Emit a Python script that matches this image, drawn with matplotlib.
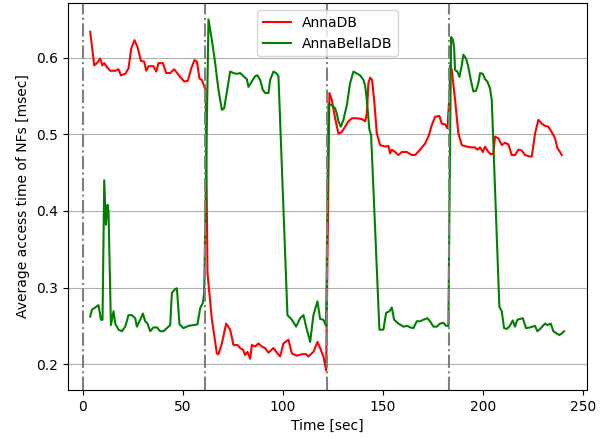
import matplotlib
matplotlib.use("Agg")
import matplotlib.pyplot as plt

# AnnaDB access time (sec, msec)
anna_t = [3.65, 5.65, 7.0, 8.65, 9.65, 10.65, 12.0, 13.65, 16.15, 17.8, 19.0, 21.15, 22.8,
          24.15, 25.8, 27.3, 29.0, 30.65, 31.65, 32.8, 35.3, 36.65, 37.8, 40.0, 41.65, 43.65,
          45.65, 48.3, 50.65, 52.5, 54.15, 55.8, 57.0, 58.3, 59.5, 60.65, 61.4, 62.3, 64.5,
          67.0, 67.8, 69.5, 71.65, 73.65, 75.3, 77.3, 78.65, 80.0, 81.15, 82.3, 83.65, 84.5,
          86.15, 87.8, 89.5, 91.15, 92.8, 95.3, 97.3, 98.65, 100.3, 102.8, 104.5, 107.0, 109.5,
          111.65, 112.8, 115.3, 117.3, 118.65, 120.3, 121.65, 123.3, 124.5, 126.15, 127.8,
          129.5, 130.65, 132.8, 134.5, 137.0, 139.5, 141.15, 142.0, 142.8, 143.65, 144.65,
          145.8, 147.0, 148.65, 151.15, 152.8, 153.65, 154.5, 156.15, 157.8, 159.5, 162.0,
          164.5, 166.15, 168.65, 171.15, 172.8, 174.5, 176.15, 178.3, 179.5, 181.15, 182.3,
          183.3, 183.8, 184.5, 186.15, 187.8, 189.5, 192.0, 194.5, 196.15, 197.3, 198.65,
          200.0, 201.15, 202.8, 204.0, 205.3, 206.15, 207.8, 209.5, 211.15, 212.8, 214.5,
          216.15, 217.8, 219.5, 221.15, 223.65, 224.5, 226.15, 227.8, 229.5, 231.15, 232.8,
          234.5, 236.15, 237.3, 238.65, 239.5]
anna_v = [0.634, 0.590, 0.593, 0.599, 0.590, 0.593, 0.588, 0.583, 0.583, 0.585, 0.577, 0.579,
          0.586, 0.612, 0.623, 0.614, 0.596, 0.595, 0.583, 0.589, 0.589, 0.582, 0.593, 0.593,
          0.580, 0.580, 0.585, 0.576, 0.569, 0.570, 0.586, 0.597, 0.595, 0.573, 0.571, 0.563,
          0.558, 0.319, 0.258, 0.214, 0.213, 0.227, 0.253, 0.245, 0.225, 0.225, 0.221, 0.219,
          0.212, 0.216, 0.207, 0.225, 0.223, 0.227, 0.223, 0.221, 0.215, 0.221, 0.214, 0.210,
          0.227, 0.232, 0.214, 0.211, 0.213, 0.213, 0.210, 0.216, 0.229, 0.221, 0.210, 0.192,
          0.554, 0.545, 0.521, 0.501, 0.503, 0.508, 0.517, 0.521, 0.521, 0.520, 0.517, 0.527,
          0.567, 0.574, 0.571, 0.541, 0.501, 0.486, 0.484, 0.485, 0.475, 0.480, 0.477, 0.473,
          0.477, 0.477, 0.473, 0.473, 0.480, 0.488, 0.497, 0.512, 0.523, 0.524, 0.514, 0.513,
          0.508, 0.549, 0.590, 0.584, 0.545, 0.501, 0.486, 0.484, 0.483, 0.483, 0.480, 0.483,
          0.477, 0.484, 0.477, 0.474, 0.475, 0.497, 0.495, 0.486, 0.489, 0.487, 0.473, 0.473,
          0.480, 0.479, 0.473, 0.471, 0.471, 0.501, 0.519, 0.514, 0.511, 0.510, 0.503, 0.495,
          0.482, 0.477, 0.473]

# AnnaBellaDB access time
bella_t = [3.65, 4.5, 6.15, 7.8, 9.0, 9.8, 10.65, 11.5, 12.3, 12.8, 14.0, 15.3, 16.15, 17.8,
           19.5, 21.15, 22.8, 24.5, 26.15, 27.0, 28.65, 30.0, 31.15, 32.3, 33.65, 35.3, 37.0,
           38.65, 40.3, 42.0, 43.65, 44.5, 46.15, 47.0, 48.3, 50.3, 52.8, 55.3, 57.3, 58.65,
           60.0, 60.65, 62.8, 64.5, 66.15, 67.8, 69.5, 70.65, 72.0, 73.65, 75.3, 77.0, 78.65,
           80.3, 82.0, 82.8, 84.5, 86.15, 87.3, 88.65, 90.0, 91.15, 92.8, 93.65, 95.3, 96.65,
           97.8, 102.3, 104.5, 106.65, 108.65, 110.3, 111.65, 113.65, 115.3, 117.3, 118.65,
           120.3, 121.65, 122.8, 124.5, 126.15, 127.0, 127.8, 129.0, 130.3, 132.0, 133.65,
           135.3, 137.3, 138.65, 140.3, 141.15, 142.0, 143.3, 144.15, 148.3, 150.3, 151.65,
           153.3, 154.5, 155.65, 157.8, 160.3, 162.3, 163.65, 165.3, 167.0, 168.65, 170.3,
           172.3, 173.65, 175.3, 177.0, 178.65, 180.3, 181.65, 182.8, 184.15, 185.0, 185.65,
           186.15, 187.3, 188.3, 189.5, 190.3, 191.65, 192.8, 194.0, 195.3, 196.65, 197.8,
           198.65, 200.0, 201.15, 202.3, 203.65, 204.5, 208.3, 209.5, 210.65, 212.0, 213.3,
           215.0, 216.15, 217.3, 218.65, 220.0, 221.65, 223.65, 226.15, 227.3, 228.65, 231.15,
           232.3, 234.0, 235.3, 237.0, 238.3, 239.5, 240.65]
bella_v = [0.262, 0.271, 0.274, 0.277, 0.258, 0.258, 0.440, 0.382, 0.408, 0.399, 0.251, 0.269,
           0.253, 0.245, 0.243, 0.249, 0.264, 0.264, 0.260, 0.249, 0.258, 0.266, 0.256, 0.253,
           0.243, 0.248, 0.248, 0.243, 0.243, 0.247, 0.251, 0.293, 0.298, 0.299, 0.252, 0.247,
           0.250, 0.251, 0.252, 0.273, 0.280, 0.293, 0.650, 0.623, 0.593, 0.558, 0.532, 0.534,
           0.556, 0.582, 0.580, 0.579, 0.580, 0.576, 0.572, 0.562, 0.569, 0.576, 0.577, 0.571,
           0.558, 0.554, 0.554, 0.571, 0.582, 0.580, 0.576, 0.264, 0.258, 0.249, 0.260, 0.264,
           0.249, 0.229, 0.264, 0.282, 0.259, 0.258, 0.250, 0.540, 0.538, 0.534, 0.527, 0.517,
           0.510, 0.519, 0.538, 0.567, 0.582, 0.579, 0.577, 0.571, 0.564, 0.545, 0.506, 0.499,
           0.245, 0.245, 0.267, 0.269, 0.274, 0.258, 0.253, 0.249, 0.250, 0.248, 0.247, 0.256,
           0.256, 0.258, 0.260, 0.256, 0.249, 0.249, 0.253, 0.254, 0.250, 0.250, 0.627, 0.624,
           0.614, 0.584, 0.582, 0.575, 0.590, 0.604, 0.599, 0.588, 0.571, 0.556, 0.557, 0.567,
           0.580, 0.579, 0.572, 0.569, 0.560, 0.545, 0.275, 0.269, 0.247, 0.246, 0.249, 0.257,
           0.249, 0.258, 0.259, 0.260, 0.247, 0.248, 0.250, 0.243, 0.246, 0.253, 0.251, 0.253,
           0.243, 0.240, 0.238, 0.240, 0.243]

# switch-over instants
switch_t = [0, 61.1, 122.2, 183.3]

fig = plt.figure(figsize=(6.03, 4.38), dpi=100)
ax = fig.add_axes([0.112, 0.11, 0.862, 0.883])

ax.plot(anna_t, anna_v, color="red", lw=1.5, label="AnnaDB")
ax.plot(bella_t, bella_v, color="green", lw=1.5, label="AnnaBellaDB")
for t in switch_t:
    ax.axvline(t, color="gray", ls="-.", lw=1.5)

ax.grid(axis="y")
ax.set_xlim(-7.7, 252.3)
ax.set_ylim(0.1665, 0.6714)
ax.set_yticks([0.2, 0.3, 0.4, 0.5, 0.6])
ax.set_xlabel("Time [sec]")
ax.set_ylabel("Average access time of NFs [msec]")
ax.legend(loc="upper center")

fig.savefig("out.png")
